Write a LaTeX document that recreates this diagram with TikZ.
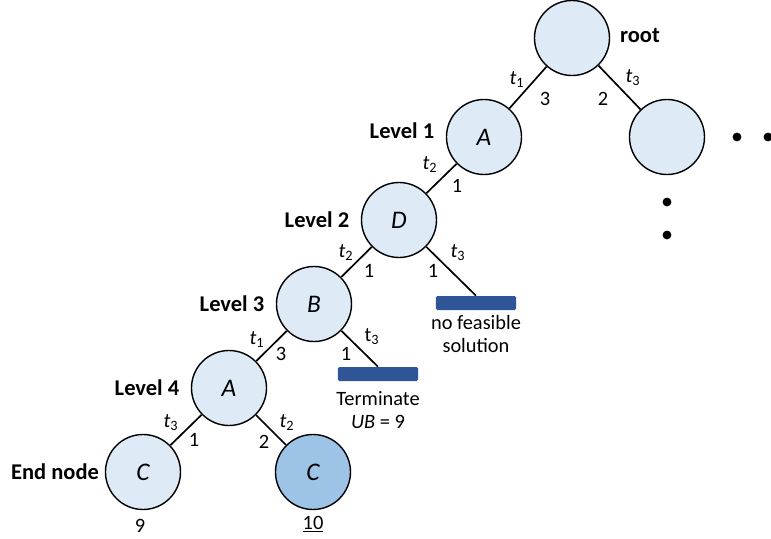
\documentclass[tikz,border=0pt]{standalone}
\usepackage{fontspec}
\setmainfont{Carlito}
\usepackage{tikz}
\usetikzlibrary{positioning}
\definecolor{nodeLight}{RGB}{222,235,247}
\definecolor{nodeDark}{RGB}{157,195,230}
\definecolor{barBlue}{RGB}{47,85,151}
\newcommand{\pxScale}{0.025}
\newcommand{\nodeSize}{1.875cm}
\newcommand{\tSub}[1]{\textit{t}\textsubscript{#1}}
\newcommand{\tUp}[1]{t\textsubscript{#1}}

\begin{document}
\fontsize{14.5}{16}\selectfont
\begin{tikzpicture}[x=\pxScale cm, y=-\pxScale cm,
    state/.style={circle, draw, line width=1pt, fill=nodeLight, minimum size=\nodeSize, inner sep=0pt, font=\fontsize{18}{20}\selectfont\itshape},
    stopbar/.style={fill=barBlue, rounded corners=1pt, minimum width=2cm, minimum height=0.35cm, inner sep=0pt},
    edge/.style={line width=1.2pt},
    lvl/.style={font=\fontsize{16}{18}\selectfont\bfseries},
    dot/.style={circle, fill=black, minimum size=0.22cm, inner sep=0pt}]

   \useasboundingbox (0,0) rectangle (771,539);

   % tree nodes
   \node[state] (root) at (572,38) {};
   \node[state] (rchild) at (667,137) {};
   \node[state] (a1) at (484,137) {A};
   \node[state] (d2) at (399,220) {D};
   \node[state] (b3) at (314,304) {B};
   \node[state] (a4) at (229,388) {A};
   \node[state] (cend) at (143,472) {C};
   \node[state, fill=nodeDark] (cbest) at (313,472) {C};

   % pruned branches
   \node[stopbar] (barInfeas) at (476,303) {};
   \node[stopbar] (barTerm) at (378,374) {};

   \draw[edge] (root) -- (a1);
   \draw[edge] (root) -- (rchild);
   \draw[edge] (a1) -- (d2);
   \draw[edge] (d2) -- (b3);
   \draw[edge] (d2) -- (barInfeas.north);
   \draw[edge] (b3) -- (a4);
   \draw[edge] (b3) -- (barTerm.north);
   \draw[edge] (a4) -- (cend);
   \draw[edge] (a4) -- (cbest);

   % level labels
   \node[lvl] (lroot) at (640,35) {root};
   \node[lvl] (l1) at (402,131) {Level 1};
   \node[lvl] (l2) at (317,220) {Level 2};
   \node[lvl] (l3) at (232,304) {Level 3};
   \node[lvl] (l4) at (147,388) {Level 4};
   \node[lvl] (lend) at (55,472) {End node};

   % edge labels
   \node (e1t) at (517,80) {\tSub{1}};
   \node (e1w) at (545,99) {3};
   \node (e2w) at (603,99) {2};
   \node (e2t) at (633,78) {\tSub{3}};
   \node (e3t) at (430,165) {\tSub{2}};
   \node (e3w) at (457,186) {1};
   \node (e4t) at (346,253) {\tSub{2}};
   \node (e4w) at (369,271) {1};
   \node (e5w) at (433,271) {1};
   \node (e5t) at (458,253) {\tSub{3}};
   \node (e6t) at (257,340) {\tSub{1}};
   \node (e6w) at (281,354) {3};
   \node (e7w) at (346,354) {1};
   \node (e7t) at (372,337) {\tUp{3}};
   \node (e8t) at (171,423) {\tSub{3}};
   \node (e8w) at (194,440) {1};
   \node (e9w) at (264,442) {2};
   \node (e9t) at (287,423) {\tSub{2}};

   % results
   \node (vend) at (140,526) {9};
   \node (vbest) at (313,524) {\underline{10}};
   \node[align=center] (tInfeas) at (476,334) {no feasible\\solution};
   \node[align=center] (tTerm) at (378,410) {Terminate\\\textit{UB} = 9};

   % more branches
   \node[dot] (dr1) at (737,137) {};
   \node[dot] (dr2) at (768,137) {};
   \node[dot] (dd1) at (667,202) {};
   \node[dot] (dd2) at (667,235) {};
\end{tikzpicture}
\end{document}
